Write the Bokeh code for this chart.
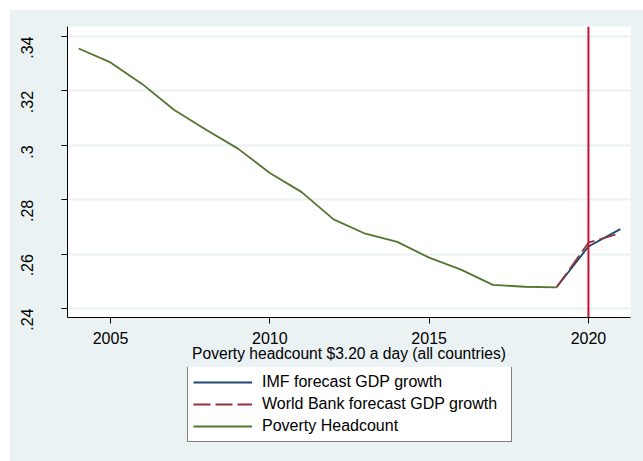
import numpy as np
from bokeh.plotting import figure
from bokeh.layouts import column
from bokeh.models import Span, Legend, LegendItem, FixedTicker, Range1d
from bokeh.embed import file_html
from bokeh.resources import INLINE

years = [2004, 2005, 2006, 2007, 2008, 2009, 2010, 2011, 2012, 2013, 2014, 2015, 2016, 2017, 2018, 2019]
headcount = [0.3356, 0.3305, 0.3225, 0.3130, 0.3057, 0.2988, 0.2898, 0.2828, 0.2728, 0.2675, 0.2645, 0.2587, 0.2543, 0.2487, 0.2480, 0.2478]
forecast_years = [2019, 2020, 2021]
imf_forecast = [0.2478, 0.2628, 0.2692]
wb_forecast = [0.2478, 0.2642, 0.2677]
y_ticks = [0.24, 0.26, 0.28, 0.30, 0.32, 0.34]
y_tick_labels = {0.24: ".24", 0.26: ".26", 0.28: ".28", 0.30: ".3", 0.32: ".32", 0.34: ".34"}
x_ticks = [2005, 2010, 2015, 2020]
vline_year = 2020
legend_labels = ["IMF forecast GDP growth", "World Bank forecast GDP growth", "Poverty Headcount"]

BG = "#EAF2F3"
FONT = "Liberation Sans"
FS = "16px"
C_IMF, C_WB, C_HC = "#1A476F", "#90353B", "#55752F"
LW = 1.8
DASH = "17 5"

p = figure(width=633, height=357, output_backend="svg", toolbar_location=None,
           x_range=(2003.65, 2021.32), y_range=(0.2367, 0.3437),
           background_fill_color="white", border_fill_color=BG,
           min_border_left=57, min_border_right=13, min_border_top=16, min_border_bottom=50)
p.outline_line_color = None

p.xgrid.grid_line_color = None
p.ygrid.grid_line_color = BG
p.ygrid.grid_line_width = 2
p.ygrid.ticker = FixedTicker(ticks=y_ticks)

p.xaxis.ticker = FixedTicker(ticks=x_ticks)
p.yaxis.ticker = FixedTicker(ticks=y_ticks)
p.yaxis.major_label_overrides = y_tick_labels
p.yaxis.major_label_orientation = np.pi / 2
for ax in (p.xaxis, p.yaxis):
    ax.axis_line_color = "black"
    ax.axis_line_width = 1
    ax.major_tick_line_color = "black"
    ax.major_tick_in = 0
    ax.major_tick_out = 6
    ax.minor_tick_line_color = None
    ax.major_label_text_font = FONT
    ax.major_label_text_font_size = FS
    ax.major_label_text_color = "black"
p.yaxis.major_label_standoff = 34
p.xaxis.major_label_standoff = 8
p.xaxis.axis_label = "Poverty headcount $3.20 a day (all countries)"
p.xaxis.axis_label_text_font = FONT
p.xaxis.axis_label_text_font_size = "15.6px"
p.xaxis.axis_label_text_font_style = "normal"
p.xaxis.axis_label_text_color = "black"
p.xaxis.axis_label_standoff = -2

p.line(forecast_years, imf_forecast, line_color=C_IMF, line_width=LW)
p.line(forecast_years, wb_forecast, line_color=C_WB, line_width=LW, line_dash=DASH)
p.line(years, headcount, line_color=C_HC, line_width=LW)
p.add_layout(Span(location=vline_year, dimension="height", line_color="#C8102E", line_width=2))

# legend panel below the plot
q = figure(width=633, height=94, output_backend="svg", toolbar_location=None,
           x_axis_type=None, y_axis_type=None,
           x_range=Range1d(2003.65, 2021.32), y_range=Range1d(0.2367, 0.3437),
           background_fill_color=BG, border_fill_color=BG,
           min_border_left=0, min_border_right=0, min_border_top=0, min_border_bottom=0)
q.outline_line_color = None
q.xgrid.grid_line_color = None
q.ygrid.grid_line_color = None
l_imf = q.line(forecast_years, imf_forecast, line_color=C_IMF, line_width=LW, visible=False)
l_wb = q.line(forecast_years, wb_forecast, line_color=C_WB, line_width=LW, line_dash=DASH, visible=False)
l_hc = q.line(years, headcount, line_color=C_HC, line_width=LW, visible=False)

legend = Legend(items=[
    LegendItem(label=legend_labels[0], renderers=[l_imf]),
    LegendItem(label=legend_labels[1], renderers=[l_wb]),
    LegendItem(label=legend_labels[2], renderers=[l_hc]),
], location=(120, 19), orientation="vertical")
legend.label_text_font = FONT
legend.label_text_font_size = FS
legend.label_text_color = "black"
legend.glyph_width = 59
legend.glyph_height = 20
legend.label_height = 20
legend.label_width = 244
legend.spacing = 2
legend.padding = 5
legend.margin = 0
legend.label_standoff = 10
legend.border_line_color = "black"
legend.border_line_width = 1
legend.background_fill_color = "white"
legend.background_fill_alpha = 1
q.add_layout(legend, "center")

layout = column(p, q, spacing=0, margin=(10, 0, 0, 10),
                styles={"background-color": BG})

open("out.html", "w").write(file_html(layout, INLINE))
